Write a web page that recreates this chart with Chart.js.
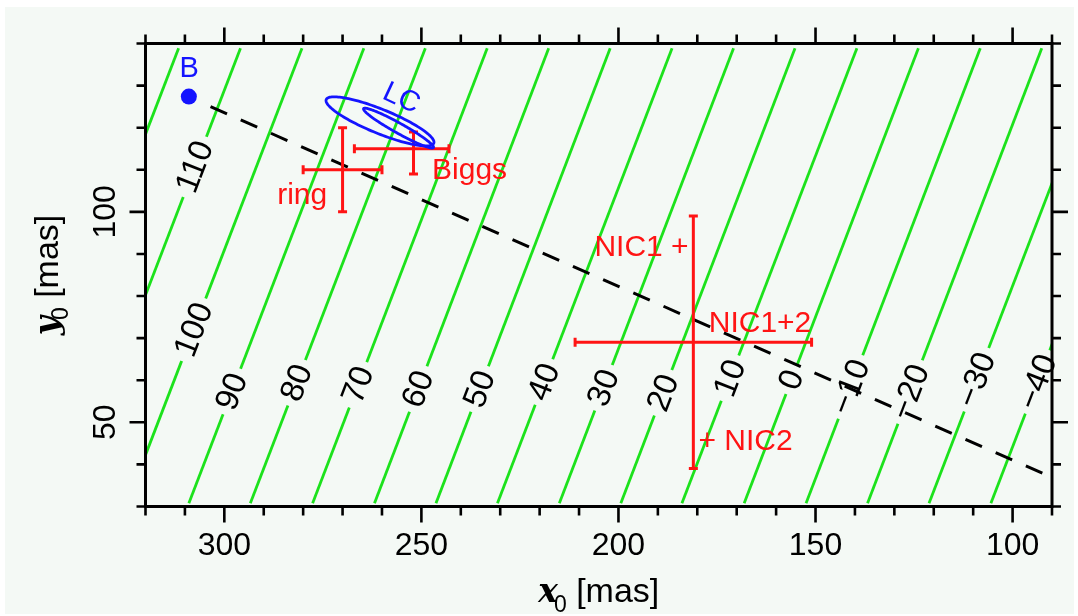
<!DOCTYPE html>
<html>
<head>
<meta charset="utf-8">
<title>x0 / y0 plane</title>
<script src="https://cdn.jsdelivr.net/npm/chart.js@4.4.1/dist/chart.umd.min.js"></script>
<style>
  html, body { margin: 0; padding: 0; background: #ffffff; }
  #grafico { display: block; }
</style>
</head>
<body>
<canvas id="grafico" width="1078" height="616"></canvas>
<script>
// tick labels on the two axes
var xTickLabels = [300, 250, 200, 150, 100];
var yTickLabels = [100, 50];

// green contours: level, and the x where each line meets the bottom and the top of the grid
var contourLevels  = [120, 110, 100, 90, 80, 70, 60, 50, 40, 30, 20, 10, 0, -10, -20, -30, -40];
var contourXBottom = [356.0, 340.3, 324.7, 309.0, 293.4, 277.6, 261.9, 246.3, 230.7, 215.0, 199.4, 183.9, 168.1, 152.4, 136.8, 121.2, 105.5];
var contourXTop    = [311.6, 295.9, 280.3, 264.6, 249.0, 233.3, 217.7, 202.1, 186.4, 170.8, 155.2, 139.5, 123.9, 108.2, 92.6, 76.8, 61.1];
var contourYBottom = 30.8;
var contourYTop    = 138.9;
// height (y0) at which each contour carries its label; the 120 line has none
var contourLabelY  = [null, 110.7, 72.0, 57.3, 59.4, 58.9, 57.9, 57.9, 59.6, 58.2, 57.0, 60.5, 60.1, 58.4, 57.2, 60.1, 59.6];

// dashed black line
var axisLineX = [303.5, 90.0];
var axisLineY = [125.0, 36.9];

// red positions with their error ranges
var barNames = ['ring', 'Biggs', 'NIC1+2'];
var barX     = [270, 252, 181];
var barY     = [110, 115, 69];
var barXLow  = [260, 243, 151];
var barXHigh = [280, 267, 211];
var barYLow  = [100, 109, 39];
var barYHigh = [120, 119, 99];

// blue point B
var blueX = [309.0];
var blueY = [127.4];

// LC ellipses: centre, semi-axes (mas) and position angle of the major axis (deg)
var lcCentreX   = [260.5, 255.8];
var lcCentreY   = [121.5, 119.9];
var lcSemiMajor = [14.6, 10.0];
var lcSemiMinor = [2.9, 1.2];
var lcAngle     = [20.7, 27.5];

var BG = '#f4f9f5';
var GREEN = 'rgb(28,226,28)';
var RED = '#ff1414';
var BLUE = '#1414ff';
var SANS = '"Liberation Sans", Arial, Helvetica, sans-serif';

// text written next to the marks, anchored in data coordinates
var notes = [
    { text: 'B',      x: 308.9, y: 132.1, color: BLUE, size: 29, align: 'center' },
    { text: 'LC',     x: 255.1, y: 126.9, color: BLUE, size: 29, align: 'center', rot: 25 },
    { text: 'ring',   x: 273.9, y: 101.9, color: RED,  size: 30, align: 'right' },
    { text: 'Biggs',  x: 247.3, y: 107.8, color: RED,  size: 30, align: 'left' },
    { text: 'NIC1 +', x: 182.2, y: 89.4,  color: RED,  size: 30, align: 'right' },
    { text: 'NIC1+2', x: 177.1, y: 71.5,  color: RED,  size: 30, align: 'left' },
    { text: '+ NIC2', x: 179.7, y: 43.4,  color: RED,  size: 30, align: 'left' }
];

function drawContourLabels(chart) {
    var ctx = chart.ctx, xs = chart.scales.x, ys = chart.scales.y;
    ctx.save();
    ctx.font = '33px ' + SANS;
    ctx.textAlign = 'center';
    ctx.textBaseline = 'middle';
    contourLevels.forEach(function (lev, i) {
        var ly = contourLabelY[i];
        if (ly === null) return;
        var t = (ly - contourYBottom) / (contourYTop - contourYBottom);
        var lx = contourXBottom[i] + t * (contourXTop[i] - contourXBottom[i]);
        var ang = Math.atan2(ys.getPixelForValue(contourYTop) - ys.getPixelForValue(contourYBottom),
                             xs.getPixelForValue(contourXTop[i]) - xs.getPixelForValue(contourXBottom[i]));
        var text = lev < 0 ? '\u2212' + (-lev) : String(lev);
        var w = ctx.measureText(text).width;
        ctx.save();
        ctx.translate(xs.getPixelForValue(lx), ys.getPixelForValue(ly));
        ctx.rotate(ang);
        ctx.fillStyle = BG;
        ctx.fillRect(-w / 2 - 6, -7, w + 12, 14);
        ctx.fillStyle = '#000';
        ctx.fillText(text, 0, 1);
        ctx.restore();
    });
    ctx.restore();
}

function drawEllipses(chart) {
    var ctx = chart.ctx, xs = chart.scales.x, ys = chart.scales.y;
    ctx.save();
    ctx.strokeStyle = BLUE;
    ctx.lineWidth = 2.8;
    for (var k = 0; k < lcCentreX.length; k++) {
        var ca = Math.cos(lcAngle[k] * Math.PI / 180), sa = Math.sin(lcAngle[k] * Math.PI / 180);
        ctx.beginPath();
        for (var j = 0; j <= 144; j++) {
            var f = j / 144 * 2 * Math.PI;
            var dx = lcSemiMajor[k] * Math.cos(f) * ca - lcSemiMinor[k] * Math.sin(f) * sa;
            var dy = lcSemiMajor[k] * Math.cos(f) * sa + lcSemiMinor[k] * Math.sin(f) * ca;
            var px = xs.getPixelForValue(lcCentreX[k] + dx), py = ys.getPixelForValue(lcCentreY[k] + dy);
            if (j === 0) ctx.moveTo(px, py); else ctx.lineTo(px, py);
        }
        ctx.closePath();
        ctx.stroke();
    }
    ctx.restore();
}

function drawNotes(chart) {
    var ctx = chart.ctx, xs = chart.scales.x, ys = chart.scales.y;
    notes.forEach(function (n) {
        ctx.save();
        ctx.font = n.size + 'px ' + SANS;
        ctx.fillStyle = n.color;
        ctx.textAlign = n.align;
        ctx.textBaseline = n.rot ? 'middle' : 'alphabetic';
        ctx.translate(xs.getPixelForValue(n.x), ys.getPixelForValue(n.y));
        if (n.rot) ctx.rotate(n.rot * Math.PI / 180);
        ctx.fillText(n.text, 0, 0);
        ctx.restore();
    });
}

function drawFrame(chart) {
    var ctx = chart.ctx, a = chart.chartArea, xs = chart.scales.x, ys = chart.scales.y;
    ctx.save();
    ctx.strokeStyle = '#000';
    ctx.lineWidth = 3;
    ctx.strokeRect(a.left, a.top, a.right - a.left, a.bottom - a.top);
    ctx.lineWidth = 2.6;
    ctx.beginPath();
    xs.ticks.forEach(function (t) {
        var p = xs.getPixelForValue(t.value);
        var len = xTickLabels.indexOf(t.value) >= 0 ? 16 : 9;
        ctx.moveTo(p, a.bottom); ctx.lineTo(p, a.bottom + len);
        ctx.moveTo(p, a.top); ctx.lineTo(p, a.top - len);
    });
    ys.ticks.forEach(function (t) {
        var p = ys.getPixelForValue(t.value);
        var len = yTickLabels.indexOf(t.value) >= 0 ? 16 : 9;
        ctx.moveTo(a.left, p); ctx.lineTo(a.left - len, p);
        ctx.moveTo(a.right, p); ctx.lineTo(a.right + len, p);
    });
    ctx.stroke();

    // y tick labels read upwards
    ctx.fillStyle = '#000';
    ctx.font = '32px ' + SANS;
    ctx.textAlign = 'center';
    ctx.textBaseline = 'middle';
    yTickLabels.forEach(function (v) {
        ctx.save();
        ctx.translate(a.left - 39, ys.getPixelForValue(v));
        ctx.rotate(-Math.PI / 2);
        ctx.fillText(String(v), 0, 0);
        ctx.restore();
    });
    ctx.restore();
}

// axis titles: bold italic symbol, subscript 0, then the unit
function drawTitle(ctx, symbol, cx, cy, rot) {
    var parts = [
        { text: symbol,   font: 'bold italic 33px "DejaVu Serif", serif', dx: 0,  dy: 0 },
        { text: '0',      font: '23px ' + SANS, dx: -4, dy: 10 },
        { text: ' [mas]', font: '34px ' + SANS, dx: 0,  dy: 0 }
    ];
    ctx.save();
    ctx.translate(cx, cy);
    ctx.rotate(rot);
    ctx.fillStyle = '#000';
    ctx.textBaseline = 'alphabetic';
    ctx.textAlign = 'left';
    var total = 0;
    parts.forEach(function (p) {
        ctx.font = p.font;
        p.w = ctx.measureText(p.text).width;
        total += p.w + p.dx;
    });
    var x = -total / 2;
    parts.forEach(function (p) {
        ctx.font = p.font;
        x += p.dx;
        ctx.fillText(p.text, x, p.dy);
        x += p.w;
    });
    ctx.restore();
}

var decor = {
    id: 'decor',
    beforeDraw: function (chart) {
        var ctx = chart.ctx;
        ctx.save();
        ctx.fillStyle = BG;
        ctx.fillRect(5, 7, chart.width - 9, chart.height - 9);
        ctx.restore();
    },
    beforeDatasetDraw: function (chart, args) {
        if (chart.data.datasets[args.index].id === 'axis') drawContourLabels(chart);
    },
    afterDatasetsDraw: function (chart) {
        drawEllipses(chart);
        drawNotes(chart);
        drawFrame(chart);
        var a = chart.chartArea;
        drawTitle(chart.ctx, 'x', (a.left + a.right) / 2, 602, 0);
        drawTitle(chart.ctx, 'y', 58, (a.top + a.bottom) / 2, -Math.PI / 2);
    }
};

var datasets = [];
contourLevels.forEach(function (lev, i) {
    datasets.push({
        label: 'contour ' + lev,
        data: [{ x: contourXBottom[i], y: contourYBottom }, { x: contourXTop[i], y: contourYTop }],
        showLine: true, borderColor: GREEN, borderWidth: 2.8, pointRadius: 0, clip: 0, order: 4
    });
});
datasets.push({
    id: 'axis',
    label: 'axis',
    data: [{ x: axisLineX[0], y: axisLineY[0] }, { x: axisLineX[1], y: axisLineY[1] }],
    showLine: true, borderColor: '#000', borderWidth: 3, borderDash: [18, 15], pointRadius: 0, clip: 0, order: 3
});
barNames.forEach(function (name, i) {
    datasets.push({
        label: name + ' x',
        data: [{ x: barXLow[i], y: barY[i] }, { x: barXHigh[i], y: barY[i] }],
        showLine: true, borderColor: RED, borderWidth: 3,
        pointStyle: 'line', pointRotation: 90, pointRadius: 4.5, pointBorderWidth: 3, pointBorderColor: RED, order: 2
    });
    datasets.push({
        label: name + ' y',
        data: [{ x: barX[i], y: barYLow[i] }, { x: barX[i], y: barYHigh[i] }],
        showLine: true, borderColor: RED, borderWidth: 3,
        pointStyle: 'line', pointRotation: 0, pointRadius: 4.5, pointBorderWidth: 3, pointBorderColor: RED, order: 2
    });
});
datasets.push({
    label: 'B',
    data: blueX.map(function (x, i) { return { x: x, y: blueY[i] }; }),
    pointRadius: 8, pointBackgroundColor: BLUE, pointBorderColor: BLUE, pointBorderWidth: 0, order: 1
});

var ctx = document.getElementById('grafico').getContext('2d');
var grafico = new Chart(ctx, {
    type: 'scatter',
    data: { datasets: datasets },
    plugins: [decor],
    options: {
        responsive: false,
        animation: false,
        events: [],
        layout: { padding: { top: 43.5, right: 26, left: 0, bottom: 0 } },
        plugins: { legend: { display: false }, tooltip: { enabled: false } },
        scales: {
            x: {
                type: 'linear', position: 'bottom', min: 90, max: 320, reverse: true,
                grid: { display: false, drawTicks: false },
                border: { display: false },
                ticks: {
                    stepSize: 10, autoSkip: false, maxRotation: 0, minRotation: 0, padding: 20,
                    color: '#000', font: { family: SANS, size: 32 },
                    callback: function (v) { return xTickLabels.indexOf(v) >= 0 ? String(v) : ''; }
                },
                afterFit: function (s) { s.height = 109.5; }
            },
            y: {
                type: 'linear', position: 'left', min: 30, max: 140,
                grid: { display: false, drawTicks: false },
                border: { display: false },
                ticks: { stepSize: 10, display: false },
                afterFit: function (s) { s.width = 145.5; }
            }
        }
    }
});
</script>
</body>
</html>
